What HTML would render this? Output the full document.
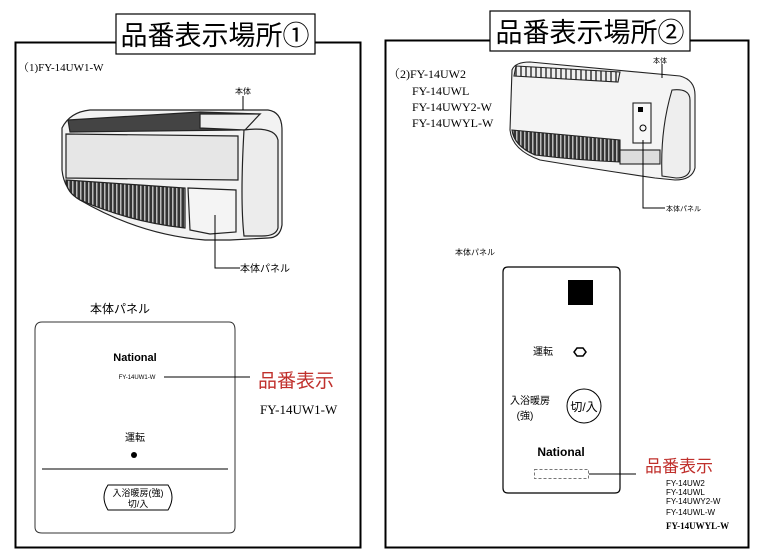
<!DOCTYPE html>
<html><head><meta charset="utf-8"><style>
html,body{margin:0;padding:0;background:#fff;}
svg{display:block;}
text{font-family:"Liberation Sans","Noto Sans CJK JP",sans-serif;}
.s{font-family:"Liberation Serif","Noto Serif CJK SC",serif;}
</style></head><body>
<svg width="764" height="556" viewBox="0 0 764 556" xmlns="http://www.w3.org/2000/svg">
<defs>
<pattern id="st" width="4" height="4" patternUnits="userSpaceOnUse"><rect width="4" height="4" fill="#333"/><rect width="1.5" height="4" fill="#bbb"/></pattern>
<pattern id="st2" width="5" height="4" patternUnits="userSpaceOnUse"><rect width="5" height="4" fill="#eee"/><rect width="2" height="4" fill="#666"/></pattern>
</defs>
<rect width="764" height="556" fill="#fff"/>
<!-- Left frame -->
<rect x="15.5" y="42.5" width="345" height="505" fill="none" stroke="#000" stroke-width="2"/>
<rect x="116" y="14" width="199" height="40" fill="#fff" stroke="#000" stroke-width="1.2"/>
<text x="215" y="45" font-size="27" text-anchor="middle">品番表示場所①</text>
<text class="s" x="18" y="71" font-size="11">（1)FY-14UW1-W</text>
<!-- Left heater -->
<g stroke="#222" stroke-width="1.2">
<path d="M62 128 Q70 112 90 110 L268 110 Q282 112 282 130 L282 225 Q280 238 268 238 L230 240 L205 240 Q140 235 80 200 Q64 190 62 170 Z" fill="#f2f2f2"/>
<path d="M68 120 L200 112 L260 114 L240 130 L70 132 Z" fill="#444"/>
<path d="M200 114 L260 114 L245 130 L200 128Z" fill="#eee"/>
<path d="M66 134 L238 136 L238 180 L66 178 Z" fill="#e6e6e6"/>
<path d="M244 130 Q275 126 278 140 L278 228 Q276 236 262 236 L244 236 Q240 200 244 130Z" fill="#ececec"/>
<path d="M66 180 L185 188 L185 228 Q130 222 80 200 Q66 192 66 180Z" fill="url(#st)"/>
<path d="M188 188 L236 190 L236 232 L210 234 L190 230Z" fill="#f4f4f4"/>
</g>
<g stroke="#000" stroke-width="1" fill="none">
<line x1="243" y1="96" x2="243" y2="110"/>
<path d="M215 215 L215 268 L240 268"/>
</g>
<text x="243" y="94" font-size="8" text-anchor="middle">本体</text>
<text x="240" y="272" font-size="10">本体パネル</text>
<text x="90" y="313" font-size="12">本体パネル</text>
<path d="M42 322 L229 322 Q235 322 235 330 L235 527 Q235 533 229 533 L42 533 Q35 533 35 527 L35 330 Q35 322 42 322Z" fill="#fff" stroke="#333" stroke-width="1"/>
<text x="135" y="361" font-size="11" font-weight="bold" text-anchor="middle">National</text>
<text x="137" y="379" font-size="6" text-anchor="middle">FY-14UW1-W</text>
<line x1="164" y1="377" x2="250" y2="377" stroke="#000" stroke-width="1"/>
<text x="258" y="387" font-size="19" fill="#c0302c">品番表示</text>
<text class="s" x="260" y="414" font-size="13">FY-14UW1-W</text>
<text x="135" y="441" font-size="10" text-anchor="middle">運転</text>
<circle cx="134" cy="455" r="3" fill="#000"/>
<line x1="42" y1="469" x2="228" y2="469" stroke="#000" stroke-width="1"/>
<path d="M108 485 L168 485 Q176 497 168 510 L108 510 Q100 497 108 485Z" fill="#fff" stroke="#000" stroke-width="1"/>
<text x="138" y="496" font-size="9" text-anchor="middle">入浴暖房(強)</text>
<text x="138" y="507" font-size="9" text-anchor="middle">切/入</text>

<!-- Right frame -->
<rect x="385.5" y="40.5" width="363" height="507" fill="none" stroke="#000" stroke-width="2"/>
<rect x="490" y="11" width="200" height="40" fill="#fff" stroke="#000" stroke-width="1.2"/>
<text x="590" y="42" font-size="27" text-anchor="middle">品番表示場所②</text>
<text class="s" x="388" y="78" font-size="12">（2)FY-14UW2</text>
<text class="s" x="412" y="95" font-size="12">FY-14UWL</text>
<text class="s" x="412" y="111" font-size="12">FY-14UWY2-W</text>
<text class="s" x="412" y="127" font-size="12">FY-14UWYL-W</text>
<!-- Right heater -->
<g stroke="#222" stroke-width="1.1">
<path d="M512 70 Q515 62 530 62 L680 76 Q695 80 695 95 L695 168 Q692 180 675 180 L655 178 Q600 170 540 160 Q512 150 510 130 Z" fill="#f4f4f4"/>
<path d="M516 66 L620 72 L618 82 L514 76Z" fill="url(#st2)"/>
<path d="M512 130 L620 140 L620 162 Q575 160 535 155 Q514 146 512 130Z" fill="url(#st)"/>
<path d="M672 90 Q690 88 690 100 L690 170 Q688 178 676 178 L662 176 Q660 130 672 90Z" fill="#eee"/>
<rect x="633" y="103" width="18" height="40" fill="#f8f8f8"/>
<rect x="620" y="150" width="40" height="14" fill="#ddd"/>
</g>
<rect x="638" y="107" width="5" height="5" fill="#000"/>
<circle cx="643" cy="128" r="3" fill="none" stroke="#000"/>
<g stroke="#000" stroke-width="1" fill="none">
<line x1="662" y1="64" x2="662" y2="78"/>
<path d="M643 140 L643 208 L665 208"/>
</g>
<text x="660" y="63" font-size="7" text-anchor="middle">本体</text>
<text x="666" y="211" font-size="7">本体パネル</text>
<text x="455" y="255" font-size="8">本体パネル</text>
<path d="M508 267 L615 267 Q620 267 620 272 L620 488 Q620 493 615 493 L508 493 Q503 493 503 488 L503 272 Q503 267 508 267Z" fill="#fff" stroke="#000" stroke-width="1.2"/>
<rect x="568" y="280" width="25" height="25" fill="#000"/>
<text x="543" y="355" font-size="10" text-anchor="middle">運転</text>
<polygon points="577,348 583,348 586,352 583,356 577,356 574,352" fill="none" stroke="#000" stroke-width="1.5"/>
<circle cx="584" cy="406" r="17" fill="none" stroke="#000" stroke-width="1"/>
<text x="584" y="411" font-size="12" text-anchor="middle">切/入</text>
<text x="530" y="404" font-size="10" text-anchor="middle">入浴暖房</text>
<text x="525" y="419" font-size="10" text-anchor="middle">(強)</text>
<text x="561" y="456" font-size="12" font-weight="bold" text-anchor="middle">National</text>
<rect x="534.5" y="469.5" width="54" height="9" fill="none" stroke="#777" stroke-width="1" stroke-dasharray="3,2"/>
<line x1="589" y1="474" x2="636" y2="474" stroke="#000" stroke-width="1"/>
<text x="645" y="472" font-size="17" fill="#c0302c">品番表示</text>
<text x="666" y="486" font-size="8">FY-14UW2</text>
<text x="666" y="495" font-size="8">FY-14UWL</text>
<text x="666" y="504" font-size="8">FY-14UWY2-W</text>
<text x="666" y="515" font-size="8">FY-14UWL-W</text>
<text class="s" x="666" y="529" font-size="9" font-weight="bold">FY-14UWYL-W</text>
</svg>
</body></html>
